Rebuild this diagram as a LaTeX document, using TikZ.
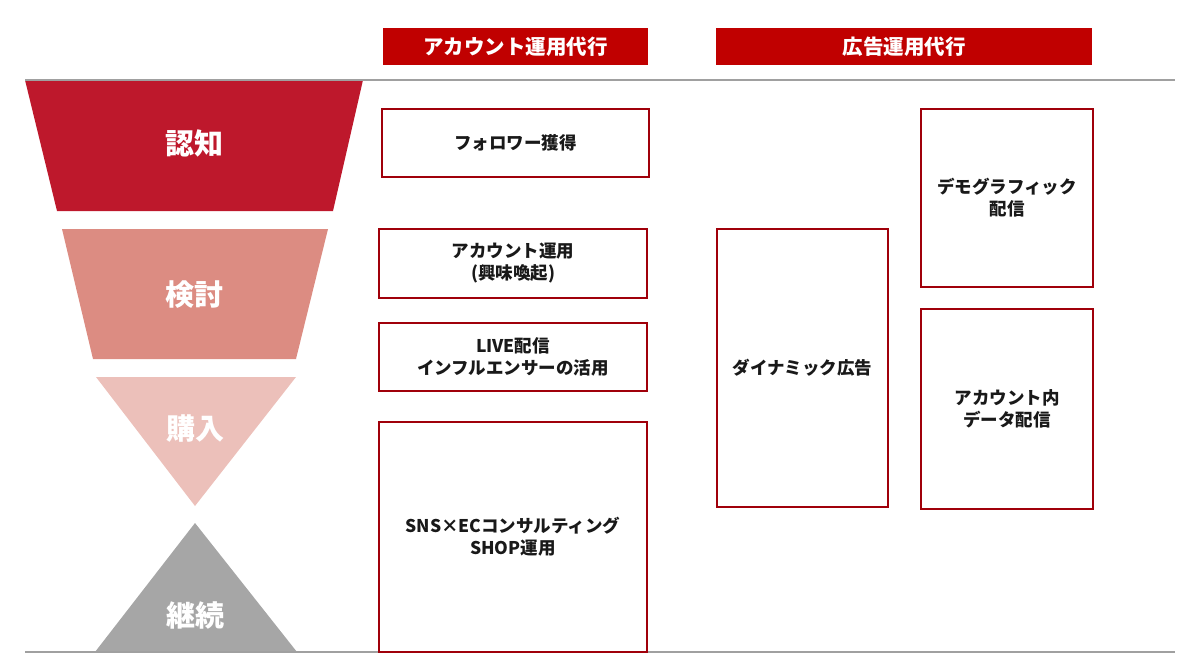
\documentclass[tikz,border=0pt]{standalone}
\usepackage{fontspec}
\newfontfamily\jp{Noto Sans CJK JP}
\definecolor{hdrred}{RGB}{192,0,0}
\definecolor{boxred}{RGB}{160,0,10}
\definecolor{stage1}{RGB}{190,24,44}
\definecolor{stage2}{RGB}{220,140,130}
\definecolor{stage3}{RGB}{236,192,186}
\definecolor{stage4}{RGB}{166,166,166}
\definecolor{rule}{RGB}{160,160,160}
\definecolor{ink}{RGB}{25,25,25}
\begin{document}
\begin{tikzpicture}[x=1pt,y=-1pt,
  hdr/.style={fill=hdrred,text=white,inner sep=0pt,minimum height=37pt,
    font=\jp\bfseries\fontsize{20.5}{24}\selectfont},
  item/.style={draw=boxred,line width=2.2pt,fill=white,text=ink,inner sep=2pt,align=center,
    font=\jp\bfseries\fontsize{17.5}{22}\selectfont},
  stagelbl/.style={text=white,inner sep=0pt,font=\jp\bfseries\fontsize{29}{32}\selectfont},
  ruleline/.style={draw=rule,line width=2pt}]
\useasboundingbox (0,0) rectangle (1200,672);
% funnel shapes
\fill[stage1] (25,80) -- (363,80) -- (333,211) -- (57,211) -- cycle;
\fill[stage2] (62,229) -- (328,229) -- (296,359) -- (93,359) -- cycle;
\fill[stage3] (96,377) -- (296,377) -- (195,506) -- cycle;
\fill[stage4] (195,523) -- (297,652) -- (95,652) -- cycle;
% rules
\coordinate (tl) at (25,80); \coordinate (tr) at (1175,80);
\coordinate (bl) at (25,652); \coordinate (br) at (1175,652);
\draw[ruleline] (tl) -- (tr);
\draw[ruleline] (bl) -- (br);
% stage labels
\node[stagelbl] (s1) at (194,143) {認知};
\node[stagelbl] (s2) at (194,295) {検討};
\node[stagelbl] (s3) at (195,429) {購入};
\node[stagelbl] (s4) at (195,615) {継続};
% headers
\node[hdr,minimum width=265pt] (h1) at (515.5,46.5) {アカウント運用代行};
\node[hdr,minimum width=376pt] (h2) at (904,46.5) {広告運用代行};
% account column
\node[item,minimum width=267pt,minimum height=68pt] (follow) at (515.5,143) {フォロワー獲得};
\node[item,minimum width=268pt,minimum height=69pt] (acct) at (513,263.5) {アカウント運用\\(興味喚起)};
\node[item,minimum width=268pt,minimum height=68pt] (live) at (513,357) {LIVE配信\\インフルエンサーの活用};
\node[item,minimum width=268pt,minimum height=230pt] (sns) at (513,537) {SNS×ECコンサルティング\\SHOP運用};
% ad column
\node[item,minimum width=171pt,minimum height=278pt] (dyn) at (802.5,368) {ダイナミック広告};
\node[item,minimum width=172pt,minimum height=178pt] (demo) at (1007,198) {デモグラフィック\\配信};
\node[item,minimum width=172pt,minimum height=200pt] (acin) at (1007,409) {アカウント内\\データ配信};
\end{tikzpicture}
\end{document}
